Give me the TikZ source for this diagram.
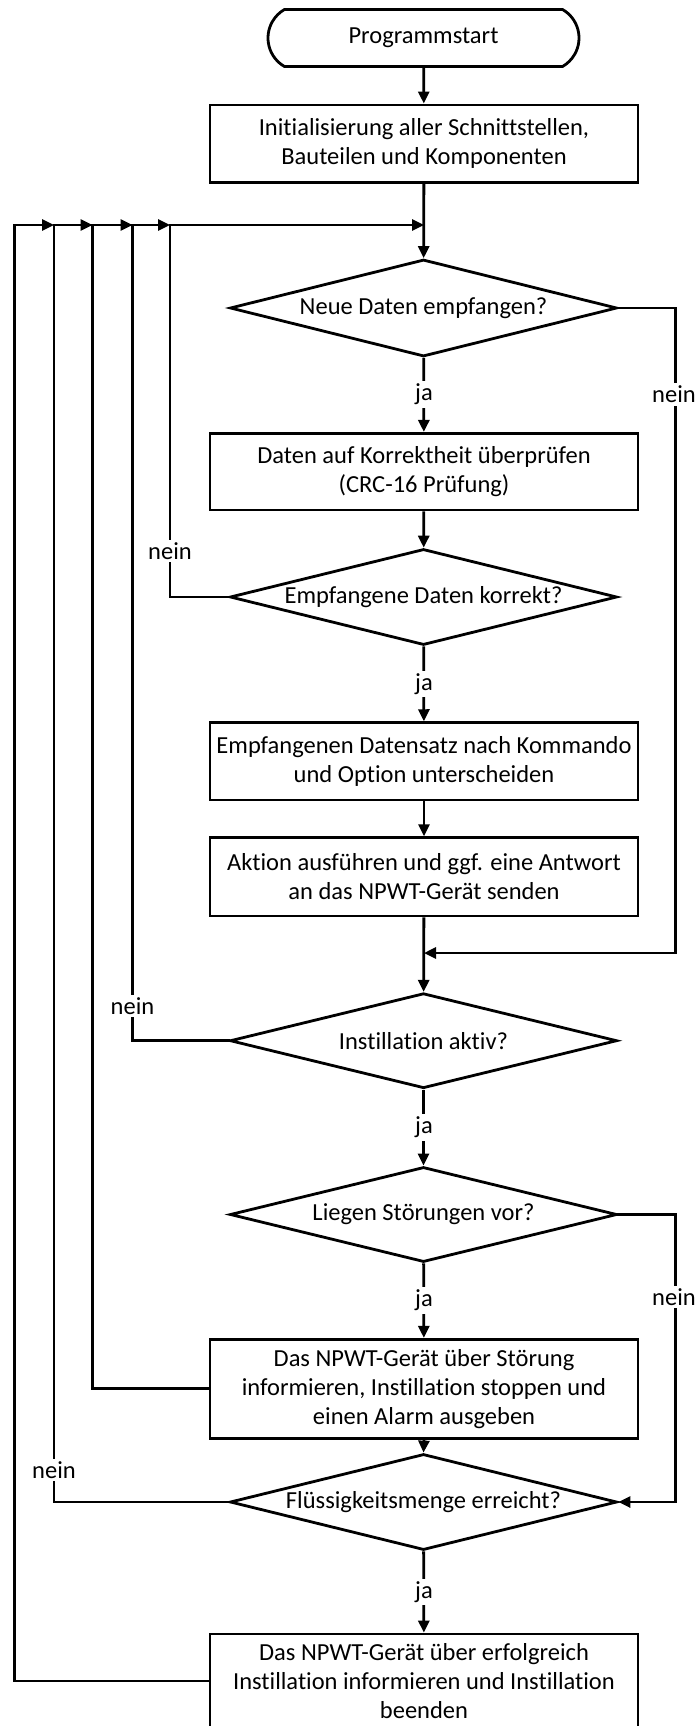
\documentclass[tikz,border=0pt]{standalone}
\usepackage{fontspec}
\setmainfont{Carlito}[Ligatures=NoCommon]
\usetikzlibrary{arrows.meta,shapes.geometric,shapes.misc}

\begin{document}
\begin{tikzpicture}[x=1pt,y=-1pt,
  line width=2.8pt,
  every node/.style={font=\fontsize{24.5}{29}\selectfont},
  arr/.style={-{Triangle[length=12pt,width=11pt]}},
  joint/.style={line cap=rect},
  terminal/.style={draw,rounded rectangle,rounded rectangle arc length=120,
    minimum width=311pt,minimum height=57pt,inner sep=0pt},
  process/.style={draw,rectangle,align=center,minimum width=428pt,inner sep=0pt},
  decision/.style={draw,diamond,minimum width=387pt,minimum height=96pt,inner sep=0pt},
  lbl/.style={fill=white,inner sep=2.5pt}]

\useasboundingbox (0,0) rectangle (697,1726);

% main column
\node[terminal] (start) at (423.5,38) {Programmstart};
\node[process,minimum height=77.7pt] (b1) at (424,143.8)
  {Initialisierung aller Schnittstellen,\\Bauteilen und Komponenten};
\node[decision,minimum height=97pt] (d1) at (423.5,308)
  {\makebox[0pt]{Neue Daten empfangen?}};
\node[process,minimum height=76.7pt] (b2) at (424,471.7)
  {Daten auf Korrektheit überprüfen\\(CRC-16 Prüfung)};
\node[decision] (d2) at (423.5,597)
  {\makebox[0pt]{Empfangene Daten korrekt?}};
\node[process,minimum height=77.3pt] (b3) at (424,761.3)
  {Empfangenen Datensatz nach Kommando\\und Option unterscheiden};
\node[process,minimum height=78.3pt] (b4) at (424,876.8)
  {Aktion ausführen und ggf. eine Antwort\\an das NPWT-Gerät senden};
\node[decision,minimum height=95pt] (d3) at (423.5,1040.7)
  {\makebox[0pt]{Instillation aktiv?}};
\node[decision,minimum height=95pt] (d4) at (423.5,1214.5)
  {\makebox[0pt]{Liegen Störungen vor?}};
\node[process,minimum height=99pt] (b5) at (424,1388.8)
  {Das NPWT-Gerät über Störung\\informieren, Instillation stoppen und\\einen Alarm ausgeben};
\node[decision] (d5) at (423.5,1502)
  {\makebox[0pt]{Flüssigkeitsmenge erreicht?}};
\node[process,minimum height=94pt] (b6) at (424,1681)
  {Das NPWT-Gerät über erfolgreich\\Instillation informieren und Instillation\\beenden};

% junction points of the return loop and of the right-hand branch
\coordinate (c1) at (14.5,225);
\coordinate (c2) at (54,225);
\coordinate (c3) at (92.5,225);
\coordinate (c4) at (132.5,225);
\coordinate (c5) at (170,225);
\coordinate (m1) at (424,225);
\coordinate (m2) at (424,953);

% straight flow
\draw[arr] (start) -- (b1);
\draw[arr] (b1) -- (d1);
\draw[arr] (d1) -- (b2);
\draw[arr] (b2) -- (d2);
\draw[arr] (d2) -- (b3);
\draw[arr] (b3) -- (b4);
\draw[arr] (b4) -- (d3);
\draw[arr] (d3) -- (d4);
\draw[arr] (d4) -- (b5);
\draw[arr] (b5.south) -- (d5.north);
\draw[arr] (d5) -- (b6);

% right-hand "nein" branches
\draw[arr,joint] (d1.east) -- ++(57,0) |- (m2);
\draw[arr,joint] (d4.east) -- ++(57,0) |- (d5.east);

% return loop on the left
\draw[joint] (b6.west) -| (c1);
\draw[joint] (d5.west) -| (c2);
\draw[joint] (b5.west) -| (c3);
\draw[joint] (d3.west) -| (c4);
\draw[joint] (d2.west) -| (c5);
\draw[arr,joint] (c1) -- (c2);
\draw[arr,joint] (c2) -- (c3);
\draw[arr,joint] (c3) -- (c4);
\draw[arr,joint] (c4) -- (c5);
\draw[arr,joint] (c5) -- (m1);

% branch labels
\node[lbl] (j1) at (424,394.5) {ja};
\node[lbl] (j2) at (424,684) {ja};
\node[lbl] (j3) at (424,1127.5) {ja};
\node[lbl] (j4) at (424,1300.5) {ja};
\node[lbl] (j5) at (424,1592) {ja};
\node[lbl] (n1) at (674,394.5) {nein};
\node[lbl] (n2) at (674,1297) {nein};
\node[lbl] (n3) at (170,551) {nein};
\node[lbl] (n4) at (132.5,1006) {nein};
\node[lbl] (n5) at (54,1470) {nein};
\end{tikzpicture}
\end{document}
